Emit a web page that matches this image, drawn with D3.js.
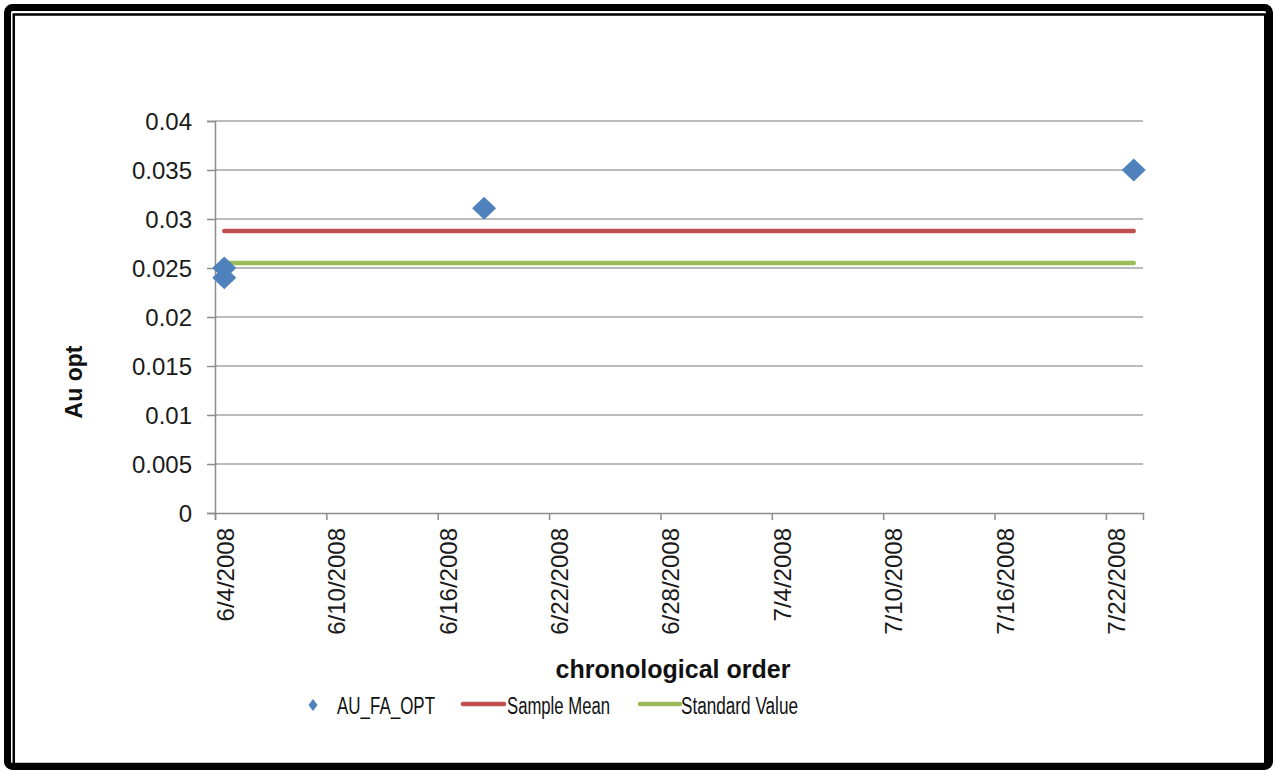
<!DOCTYPE html>
<html>
<head>
<meta charset="utf-8">
<script src="https://cdn.jsdelivr.net/npm/d3@7"></script>
<style>
  html, body { margin: 0; padding: 0; background: #ffffff; }
  svg { display: block; }
  text { font-family: "Liberation Sans", Arial, sans-serif; }
</style>
</head>
<body>
<svg id="chart" width="1275" height="772"></svg>
<script>
// Sample dates (one per assay result) and the measured Au values
const sampleDates = ["2008-06-04", "2008-06-04", "2008-06-18", "2008-07-23"];
const auValues = [0.025, 0.024, 0.0311, 0.035];
// Reference lines carried along the same dates
const meanValues = [0.02878, 0.02878, 0.02878, 0.02878];
const standardValues = [0.0255, 0.0255, 0.0255, 0.0255];

// Axis ticks
const yTicks = [0, 0.005, 0.01, 0.015, 0.02, 0.025, 0.03, 0.035, 0.04];
const xTickDates = ["2008-06-04", "2008-06-10", "2008-06-16", "2008-06-22", "2008-06-28",
                    "2008-07-04", "2008-07-10", "2008-07-16", "2008-07-22"];
const xDomain = ["2008-06-04", "2008-07-24"];

const seriesNames = ["AU_FA_OPT", "Sample Mean", "Standard Value"];
const colors = { points: "#4F81BD", mean: "#C0504D", standard: "#9BBB59" };

const parse = d3.timeParse("%Y-%m-%d");
const fmt = d3.timeFormat("%-m/%-d/%Y");

const svg = d3.select("#chart");

// Frame: thick outer border with a thin inner rule
svg.append("rect")
  .attr("x", 7.5).attr("y", 7.5).attr("width", 1262).attr("height", 759)
  .attr("rx", 5).attr("fill", "none").attr("stroke", "#000").attr("stroke-width", 7);
svg.append("rect")
  .attr("x", 13.75).attr("y", 14.5).attr("width", 1251.5).attr("height", 749.5)
  .attr("fill", "none").attr("stroke", "#000").attr("stroke-width", 2.5);

const plot = { left: 215, right: 1143, top: 121, bottom: 513 };

const x = d3.scaleTime()
  .domain(xDomain.map(parse))
  .range([plot.left, plot.right]);
const y = d3.scaleLinear()
  .domain([0, 0.04])
  .range([plot.bottom, plot.top]);

// Values sit in the middle of their day
const xMid = d => x(d3.timeHour.offset(parse(d), 12));

// Horizontal gridlines
svg.append("g")
  .selectAll("line")
  .data(yTicks.filter(v => v > 0))
  .join("line")
  .attr("x1", plot.left).attr("x2", plot.right)
  .attr("y1", d => y(d)).attr("y2", d => y(d))
  .attr("stroke", "#A5A5A5").attr("stroke-width", 1.3);

// Y axis
const yAxis = svg.append("g")
  .attr("transform", `translate(${plot.left},0)`)
  .call(d3.axisLeft(y).tickValues(yTicks).tickSize(8).tickPadding(15)
        .tickFormat(d => d3.format("")(+d.toFixed(3))));
yAxis.select(".domain").attr("stroke", "#8C8C8C").attr("stroke-width", 1.5);
yAxis.selectAll(".tick line").attr("stroke", "#8C8C8C").attr("stroke-width", 1.5);
yAxis.selectAll(".tick text")
  .attr("font-size", 24).attr("fill", "#1a1a1a")
  .attr("font-family", "'Liberation Sans', Arial, sans-serif")
  .attr("dy", "0.36em");

// X axis
const xAxis = svg.append("g")
  .attr("transform", `translate(0,${plot.bottom})`)
  .call(d3.axisBottom(x).tickValues(xTickDates.map(parse)).tickSize(7).tickFormat(fmt));
xAxis.select(".domain").attr("stroke", "#8C8C8C").attr("stroke-width", 1.5);
xAxis.selectAll(".tick line").attr("stroke", "#8C8C8C").attr("stroke-width", 1.5);
xAxis.selectAll(".tick text")
  .attr("font-size", 24).attr("fill", "#1a1a1a")
  .attr("font-family", "'Liberation Sans', Arial, sans-serif")
  .attr("text-anchor", "end")
  .attr("x", 0).attr("y", 0).attr("dy", 0)
  .attr("transform", "translate(18.5,15) rotate(-90)");

// Reference lines
const line = d3.line().x((d, i) => xMid(sampleDates[i])).y(d => y(d));
svg.append("path")
  .datum(meanValues)
  .attr("d", line)
  .attr("fill", "none").attr("stroke", colors.mean)
  .attr("stroke-width", 4.5).attr("stroke-linecap", "round");
svg.append("path")
  .datum(standardValues)
  .attr("d", line)
  .attr("fill", "none").attr("stroke", colors.standard)
  .attr("stroke-width", 4.5).attr("stroke-linecap", "round");

// Diamond marker with separate horizontal / vertical half-diagonals
function diamond(rx, ry) {
  return `M0,${-ry}L${rx},0L0,${ry}L${-rx},0Z`;
}

svg.append("g")
  .selectAll("path")
  .data(auValues)
  .join("path")
  .attr("transform", (d, i) => `translate(${xMid(sampleDates[i])},${y(d)})`)
  .attr("d", diamond(12, 11.5))
  .attr("fill", colors.points);

// Axis titles
svg.append("text")
  .attr("x", 673).attr("y", 678)
  .attr("text-anchor", "middle")
  .attr("font-size", 25).attr("font-weight", "bold").attr("fill", "#111")
  .text("chronological order");
svg.append("text")
  .attr("transform", "translate(82,382) rotate(-90)")
  .attr("text-anchor", "middle")
  .attr("font-size", 23).attr("font-weight", "bold").attr("fill", "#111")
  .text("Au opt");

// Legend
const legend = svg.append("g");
legend.append("path")
  .attr("transform", "translate(313,705)")
  .attr("d", diamond(4.5, 6))
  .attr("fill", colors.points);
legend.append("text")
  .attr("x", 337).attr("y", 714)
  .attr("font-size", 23.5).attr("fill", "#111")
  .attr("textLength", 98).attr("lengthAdjust", "spacingAndGlyphs")
  .text(seriesNames[0]);
legend.append("line")
  .attr("x1", 463).attr("x2", 504).attr("y1", 704).attr("y2", 704)
  .attr("stroke", colors.mean).attr("stroke-width", 4.5).attr("stroke-linecap", "round");
legend.append("text")
  .attr("x", 507).attr("y", 714)
  .attr("font-size", 23.5).attr("fill", "#111")
  .attr("textLength", 103).attr("lengthAdjust", "spacingAndGlyphs")
  .text(seriesNames[1]);
legend.append("line")
  .attr("x1", 640).attr("x2", 680).attr("y1", 704).attr("y2", 704)
  .attr("stroke", colors.standard).attr("stroke-width", 4.5).attr("stroke-linecap", "round");
legend.append("text")
  .attr("x", 681).attr("y", 714)
  .attr("font-size", 23.5).attr("fill", "#111")
  .attr("textLength", 117).attr("lengthAdjust", "spacingAndGlyphs")
  .text(seriesNames[2]);
</script>
</body>
</html>
